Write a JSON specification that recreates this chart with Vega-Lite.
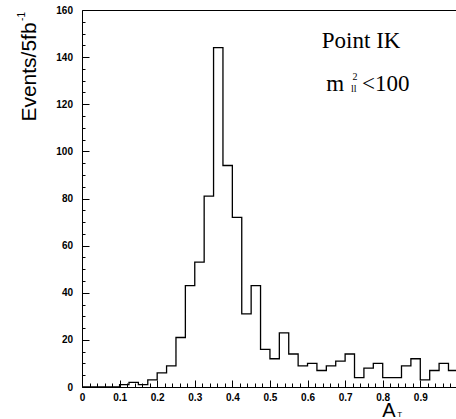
{
  "$schema": "https://vega.github.io/schema/vega-lite/v6.json",
  "width": 374,
  "height": 377,
  "autosize": {"type": "none"},
  "padding": {"left": 82, "top": 10, "right": 0, "bottom": 32},
  "background": "white",
  "config": {
    "view": {"stroke": null},
    "axis": {"grid": false, "domainColor": "black", "tickColor": "black", "labelColor": "black", "titleColor": "black", "labelFont": "Liberation Sans", "labelFontWeight": "bold", "labelFontSize": 10, "titleFontWeight": "normal"}
  },
  "datasets": {
    "hist": [
      {"x": 0.0, "y": 0}, {"x": 0.025, "y": 0}, {"x": 0.05, "y": 0}, {"x": 0.075, "y": 0},
      {"x": 0.1, "y": 1}, {"x": 0.125, "y": 2}, {"x": 0.15, "y": 1}, {"x": 0.175, "y": 3},
      {"x": 0.2, "y": 6}, {"x": 0.225, "y": 9}, {"x": 0.25, "y": 21}, {"x": 0.275, "y": 43},
      {"x": 0.3, "y": 53}, {"x": 0.325, "y": 81}, {"x": 0.35, "y": 144}, {"x": 0.375, "y": 94},
      {"x": 0.4, "y": 72}, {"x": 0.425, "y": 31}, {"x": 0.45, "y": 43}, {"x": 0.475, "y": 16},
      {"x": 0.5, "y": 12}, {"x": 0.525, "y": 23}, {"x": 0.55, "y": 14}, {"x": 0.575, "y": 9},
      {"x": 0.6, "y": 10}, {"x": 0.625, "y": 7}, {"x": 0.65, "y": 9}, {"x": 0.675, "y": 11},
      {"x": 0.7, "y": 14}, {"x": 0.725, "y": 4}, {"x": 0.75, "y": 8}, {"x": 0.775, "y": 10},
      {"x": 0.8, "y": 4}, {"x": 0.825, "y": 4}, {"x": 0.85, "y": 9}, {"x": 0.875, "y": 12},
      {"x": 0.9, "y": 3}, {"x": 0.925, "y": 7}, {"x": 0.95, "y": 10}, {"x": 0.975, "y": 7},
      {"x": 1.0, "y": 7}
    ],
    "bigtext": [
      {"label": "Point IK", "x": 0.638, "y": 143.8},
      {"label": "m", "x": 0.65, "y": 125.5},
      {"label": "<100", "x": 0.745, "y": 125.5}
    ],
    "smalltext": [
      {"label": "2", "x": 0.726, "y": 130.2},
      {"label": "ll", "x": 0.723, "y": 125.1}
    ]
  },
  "resolve": {"axis": {"x": "independent", "y": "independent"}},
  "layer": [
    {
      "data": {"name": "hist"},
      "mark": {"type": "line", "interpolate": "step-after", "color": "black", "strokeWidth": 1.3, "clip": true},
      "encoding": {
        "x": {"field": "x", "type": "quantitative", "scale": {"domain": [0, 0.995], "nice": false, "zero": false},
          "axis": {"orient": "bottom", "values": [0, 0.1, 0.2, 0.3, 0.4, 0.5, 0.6, 0.7, 0.8, 0.9], "format": "~g", "tickSize": -7, "labelPadding": 12, "labelFlush": false, "labelOverlap": false, "domainWidth": 1,
            "title": "A", "titleFont": "Liberation Sans", "titleFontSize": 20, "titleX": 306.5, "titleY": 29, "titleBaseline": "alphabetic", "titleAlign": "center"}},
        "y": {"field": "y", "type": "quantitative", "scale": {"domain": [0, 160], "nice": false},
          "axis": {"orient": "left", "values": [0, 20, 40, 60, 80, 100, 120, 140, 160], "tickSize": -7, "labelPadding": 16.5, "labelFlush": false, "labelOverlap": false, "domainWidth": 1,
            "title": "Events/5fb", "titleFont": "Liberation Sans", "titleFontSize": 21, "titleX": -47, "titleY": 61.5, "titleBaseline": "alphabetic", "titleAlign": "center", "titleAngle": 270}}
      }
    },
    {
      "data": {"name": "hist"},
      "mark": {"type": "line", "opacity": 0},
      "encoding": {
        "x": {"field": "x", "type": "quantitative", "scale": {"domain": [0, 0.995], "nice": false, "zero": false},
          "axis": {"orient": "bottom", "values": [0.02,0.04,0.06,0.08,0.12,0.14,0.16,0.18,0.22,0.24,0.26,0.28,0.32,0.34,0.36,0.38,0.42,0.44,0.46,0.48,0.52,0.54,0.56,0.58,0.62,0.64,0.66,0.68,0.72,0.74,0.76,0.78,0.82,0.84,0.86,0.88,0.92,0.94,0.96,0.98], "tickSize": -4, "labels": false, "domain": false,
            "title": "T", "titleFont": "Liberation Sans", "titleFontSize": 8, "titleX": 317.3, "titleY": 29.5, "titleBaseline": "alphabetic", "titleAlign": "center"}},
        "y": {"field": "y", "type": "quantitative", "scale": {"domain": [0, 160], "nice": false},
          "axis": {"orient": "left", "values": [5,10,15,25,30,35,45,50,55,65,70,75,85,90,95,105,110,115,125,130,135,145,150,155], "tickSize": -3, "labels": false, "domain": false,
            "title": "-1", "titleFont": "Liberation Sans", "titleFontSize": 10, "titleX": -58, "titleY": 6, "titleBaseline": "alphabetic", "titleAlign": "center", "titleAngle": 270}}
      }
    },
    {
      "data": {"name": "hist"},
      "mark": {"type": "line", "opacity": 0},
      "encoding": {
        "x": {"field": "x", "type": "quantitative", "scale": {"domain": [0, 0.995], "nice": false, "zero": false},
          "axis": {"orient": "top", "ticks": false, "labels": false, "domain": true, "domainWidth": 1, "title": null}},
        "y": {"field": "y", "type": "quantitative", "axis": null}
      }
    },
    {
      "data": {"name": "bigtext"},
      "mark": {"type": "text", "font": "Liberation Serif", "fontSize": 23, "align": "left", "baseline": "alphabetic", "color": "black"},
      "encoding": {
        "x": {"field": "x", "type": "quantitative", "axis": null},
        "y": {"field": "y", "type": "quantitative", "axis": null},
        "text": {"field": "label"}
      }
    },
    {
      "data": {"name": "smalltext"},
      "mark": {"type": "text", "font": "Liberation Serif", "fontSize": 10, "align": "center", "baseline": "alphabetic", "color": "black"},
      "encoding": {
        "x": {"field": "x", "type": "quantitative", "axis": null},
        "y": {"field": "y", "type": "quantitative", "axis": null},
        "text": {"field": "label"}
      }
    }
  ]
}
